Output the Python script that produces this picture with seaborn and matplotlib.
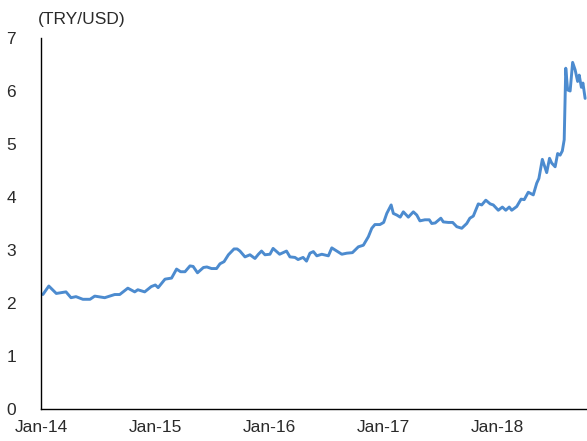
import matplotlib
matplotlib.use("Agg")
import matplotlib.pyplot as plt
import seaborn as sns
import pandas as pd

dates = [
    "2014-01-07", "2014-01-26", "2014-02-19", "2014-03-22", "2014-04-07", "2014-04-23",
    "2014-05-15", "2014-06-07", "2014-06-22", "2014-07-24", "2014-08-25", "2014-09-10",
    "2014-10-06", "2014-10-28", "2014-11-07", "2014-11-29", "2014-12-20", "2015-01-02",
    "2015-01-11", "2015-02-02", "2015-02-23", "2015-03-11", "2015-03-24", "2015-04-07",
    "2015-04-23", "2015-05-03", "2015-05-17", "2015-06-05", "2015-06-16", "2015-07-01",
    "2015-07-17", "2015-07-28", "2015-08-10", "2015-08-24", "2015-09-11", "2015-09-21",
    "2015-09-30", "2015-10-16", "2015-11-01", "2015-11-17", "2015-11-28", "2015-12-08",
    "2015-12-19", "2016-01-04", "2016-01-14", "2016-02-04", "2016-02-26", "2016-03-08",
    "2016-03-24", "2016-04-03", "2016-04-19", "2016-04-30", "2016-05-11", "2016-05-22",
    "2016-06-02", "2016-06-18", "2016-07-09", "2016-07-20", "2016-08-05", "2016-08-21",
    "2016-09-06", "2016-09-24", "2016-10-13", "2016-10-29", "2016-11-14", "2016-11-25",
    "2016-12-05", "2016-12-21", "2017-01-02", "2017-01-12", "2017-01-26", "2017-02-02",
    "2017-02-13", "2017-02-24", "2017-03-06", "2017-03-22", "2017-04-07", "2017-04-18",
    "2017-04-28", "2017-05-14", "2017-05-28", "2017-06-05", "2017-06-16", "2017-07-04",
    "2017-07-12", "2017-07-28", "2017-08-11", "2017-08-24", "2017-09-09", "2017-09-25",
    "2017-10-05", "2017-10-16", "2017-11-01", "2017-11-12", "2017-11-25", "2017-12-09",
    "2017-12-19", "2018-01-04", "2018-01-17", "2018-01-28", "2018-02-08", "2018-02-16",
    "2018-03-04", "2018-03-18", "2018-03-28", "2018-04-10", "2018-04-26", "2018-05-07",
    "2018-05-14", "2018-05-25", "2018-06-08", "2018-06-17", "2018-06-24", "2018-07-05",
    "2018-07-13", "2018-07-21", "2018-07-28", "2018-08-03", "2018-08-08", "2018-08-14",
    "2018-08-22", "2018-08-30", "2018-09-07", "2018-09-15", "2018-09-20", "2018-09-27",
    "2018-10-02", "2018-10-09",
]
rates = [
    2.16, 2.32, 2.18, 2.21, 2.10, 2.12, 2.07, 2.07, 2.13, 2.10, 2.16, 2.16,
    2.28, 2.21, 2.25, 2.21, 2.31, 2.34, 2.29, 2.45, 2.47, 2.64, 2.59, 2.59,
    2.70, 2.69, 2.57, 2.67, 2.68, 2.65, 2.65, 2.74, 2.78, 2.91, 3.02, 3.02,
    2.98, 2.87, 2.91, 2.84, 2.92, 2.98, 2.91, 2.92, 3.03, 2.92, 2.98, 2.87,
    2.86, 2.82, 2.86, 2.79, 2.94, 2.97, 2.89, 2.92, 2.89, 3.04, 2.98, 2.92,
    2.94, 2.95, 3.06, 3.09, 3.25, 3.41, 3.48, 3.48, 3.52, 3.69, 3.85, 3.69,
    3.66, 3.62, 3.72, 3.62, 3.72, 3.66, 3.55, 3.57, 3.57, 3.50, 3.51, 3.60,
    3.53, 3.52, 3.52, 3.44, 3.41, 3.50, 3.60, 3.64, 3.87, 3.85, 3.94, 3.87,
    3.85, 3.75, 3.81, 3.75, 3.81, 3.75, 3.82, 3.96, 3.95, 4.09, 4.04, 4.26,
    4.35, 4.71, 4.46, 4.73, 4.64, 4.57, 4.82, 4.79, 4.87, 5.08, 6.43, 6.02,
    6.00, 6.54, 6.40, 6.18, 6.30, 6.07, 6.15, 5.86,
]
tick_dates = ["2014-01-01", "2015-01-01", "2016-01-01", "2017-01-01", "2018-01-01"]
tick_labels = ["Jan-14", "Jan-15", "Jan-16", "Jan-17", "Jan-18"]
y_ticks = [0, 1, 2, 3, 4, 5, 6, 7]
unit_label = "(TRY/USD)"

df = pd.DataFrame({"date": pd.to_datetime(dates), "rate": rates})

sns.set_theme(style="white")
plt.rcParams["font.family"] = ["Liberation Sans", "DejaVu Sans"]

fig = plt.figure(figsize=(5.87, 4.41), dpi=100)
ax = fig.add_axes([41 / 587, 1 - 409 / 441, 1 - 41 / 587, (409 - 38) / 441])

sns.lineplot(data=df, x="date", y="rate", ax=ax, color="#4C8BCF", linewidth=2.1)

ax.set_xlim(pd.Timestamp("2014-01-01"), pd.Timestamp("2018-10-15"))
ax.set_ylim(0, 7)
ax.set_xticks(pd.to_datetime(tick_dates))
ax.set_xticklabels(tick_labels)
ax.set_yticks(y_ticks)
ax.set_xlabel("")
ax.set_ylabel("")

for side in ["top", "right"]:
    ax.spines[side].set_visible(False)
for side in ["left", "bottom"]:
    ax.spines[side].set_color("black")
    ax.spines[side].set_linewidth(1.0)

ax.tick_params(axis="both", direction="in", length=3, width=0.8, colors="#333333",
               labelsize=12.5, labelcolor="#2a2a2a")
ax.tick_params(axis="y", pad=18)
ax.tick_params(axis="x", pad=8)

fig.text(38 / 587, 1 - 19.5 / 441, unit_label, ha="left", va="center",
         fontsize=12.5, color="#2a2a2a")

fig.savefig("out.png", dpi=100)
